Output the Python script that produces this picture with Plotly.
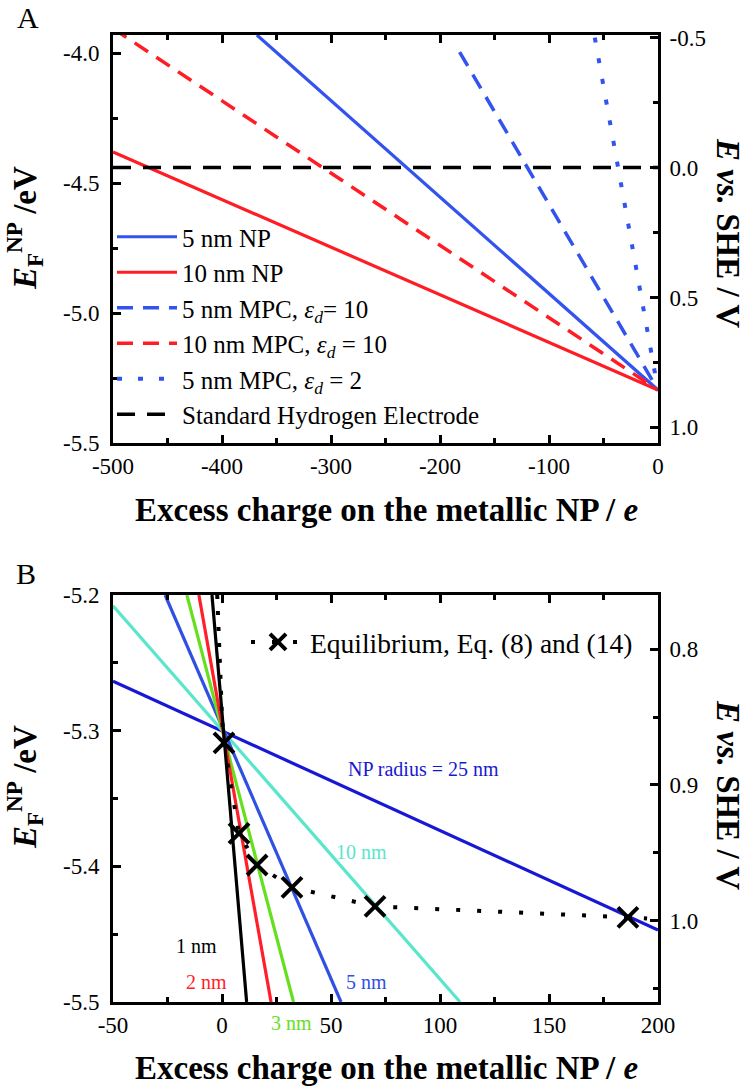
import plotly.graph_objects as go

# ---------------- Panel A data (excess charge / e, E_F / eV) ----------------
qA_5np = [-368, 0]
EA_5np = [-3.93, -5.296]
qA_10np = [-500, 0]
EA_10np = [-4.38, -5.296]
qA_5mpc10 = [-182, 0]
EA_5mpc10 = [-3.996, -5.296]
qA_10mpc10 = [-500, 0]
EA_10mpc10 = [-3.905, -5.296]
qA_5mpc2 = [-58, 0]
EA_5mpc2 = [-3.94, -5.296]
qA_she = [-500, 0]
ESHE_she = [0.0, 0.0]          # on the "E vs. SHE" axis

namesA = ["5 nm NP", "10 nm NP",
          "5 nm MPC, <i>ε<sub>d</sub></i>= 10",
          "10 nm MPC, <i>ε<sub>d</sub></i> = 10",
          "5 nm MPC, <i>ε<sub>d</sub></i> = 2",
          "Standard Hydrogen Electrode"]

# ---------------- Panel B data ----------------
qB_25 = [-50, 200]
EB_25 = [-5.2635, -5.447]
qB_10 = [-50, 109.2]
EB_10 = [-5.208, -5.5]
qB_5 = [-26.1, 54.6]
EB_5 = [-5.2, -5.5]
qB_3 = [-16.1, 32.8]
EB_3 = [-5.2, -5.5]
qB_2 = [-10.6, 22.5]
EB_2 = [-5.2, -5.5]
qB_1 = [-4.6, 11.3]
EB_1 = [-5.2, -5.5]

# equilibrium curve (Eq. 8 and 14)
qEq_top = [-2.2, -1.2, 0.0, 0.9]
EEq_top = [-5.2, -5.25, -5.29, -5.309]
qEq = [0.9, 7.8, 16.1, 32.1, 70.2, 186.2]
EEq = [-5.309, -5.3757, -5.399, -5.4155, -5.4295, -5.4376]
qEq_tail = [186.2, 195.0]
EEq_tail = [-5.4376, -5.4385]

# ticks
xA_ticks = [-500, -400, -300, -200, -100, 0]
xA_text = ["-500", "-400", "-300", "-200", "-100", "0"]
yA_ticks = [-5.5, -5.0, -4.5, -4.0]
yA_text = ["-5.5", "-5.0", "-4.5", "-4.0"]
y2A_ticks = [-0.5, 0.0, 0.5, 1.0]
y2A_text = ["-0.5", "0.0", "0.5", "1.0"]
xB_ticks = [-50, 0, 50, 100, 150, 200]
xB_text = ["-50", "0", "50", "100", "150", "200"]
yB_ticks = [-5.5, -5.4, -5.3, -5.2]
yB_text = ["-5.5", "-5.4", "-5.3", "-5.2"]
y2B_ticks = [0.8, 0.9, 1.0]
y2B_text = ["0.8", "0.9", "1.0"]

SHE_OFFSET = -4.44
yA_range = [-5.5, -3.93]
yB_range = [-5.5, -5.2]

BLUE_A = "#3253EE"
RED = "#FF1C24"
FONT = "Liberation Serif"

fig = go.Figure()

# Panel A traces
stylesA = [
    (qA_5np, EA_5np, "y", dict(color=BLUE_A, width=3.2)),
    (qA_10np, EA_10np, "y", dict(color=RED, width=3.2)),
    (qA_5mpc10, EA_5mpc10, "y", dict(color=BLUE_A, width=3.5, dash="16px,10px")),
    (qA_10mpc10, EA_10mpc10, "y", dict(color=RED, width=3.5, dash="16px,10px")),
    (qA_5mpc2, EA_5mpc2, "y", dict(color=BLUE_A, width=4, dash="5px,16px")),
    (qA_she, ESHE_she, "y2", dict(color="black", width=3.5, dash="18px,12px")),
]
for i, (q, E, ya, ln) in enumerate(stylesA):
    fig.add_trace(go.Scatter(x=q, y=E, mode="lines", name=namesA[i], line=ln,
                             xaxis="x", yaxis=ya, legend="legend", legendgroup="gA%d" % i))

# Panel B traces
for q, E, c in [(qB_25, EB_25, "#1818D4"), (qB_10, EB_10, "#5AE6CC"), (qB_5, EB_5, "#2F50E2"),
                (qB_3, EB_3, "#66E01E"), (qB_2, EB_2, "#FF1E2A"), (qB_1, EB_1, "black")]:
    fig.add_trace(go.Scatter(x=q, y=E, mode="lines", showlegend=False,
                             line=dict(color=c, width=3.2), xaxis="x2", yaxis="y3"))

fig.add_trace(go.Scatter(x=qEq_top, y=EEq_top, mode="lines", showlegend=False,
                         line=dict(color="black", width=4, dash="4px,12px"), xaxis="x2", yaxis="y3"))
fig.add_trace(go.Scatter(x=qEq_tail, y=EEq_tail, mode="lines", showlegend=False,
                         line=dict(color="black", width=4, dash="4px,12px"), xaxis="x2", yaxis="y3"))
fig.add_trace(go.Scatter(x=qEq, y=EEq, mode="lines+markers", name="Equilibrium, Eq. (8) and (14)",
                         line=dict(color="black", width=4, dash="4px,17px"),
                         marker=dict(symbol="x-thin", size=20, color="black", line=dict(color="black", width=4)),
                         xaxis="x2", yaxis="y3", legend="legend2"))
# empty trace so that the right-hand (E vs. SHE) axis of panel B is drawn
fig.add_trace(go.Scatter(x=[], y=[], mode="lines", showlegend=False, hoverinfo="skip",
                         xaxis="x2", yaxis="y4"))

W, H = 747, 1089
def px_x(p):
    return p / W
def px_y(p):
    return 1 - p / H

axis_common = dict(showline=True, linecolor="black", linewidth=3, ticks="inside", ticklen=8,
                   tickwidth=3, tickcolor="black", showgrid=False, zeroline=False, automargin=False,
                   tickfont=dict(family=FONT, size=23, color="black"), tickmode="array")
minor_common = dict(ticks="inside", ticklen=5, tickwidth=2.5, tickcolor="black", tick0=0)

xdom = [px_x(113), px_x(658)]
fig.update_layout(
    width=W, height=H, margin=dict(l=0, r=0, t=0, b=0, autoexpand=False),
    paper_bgcolor="white", plot_bgcolor="white",
    font=dict(family=FONT, color="black"),
    xaxis=dict(axis_common, domain=xdom, anchor="y", range=[-500, 0], tickvals=xA_ticks, ticktext=xA_text,
               mirror="ticks", ticklabelstandoff=0, minor=dict(minor_common, dtick=50)),
    yaxis=dict(axis_common, domain=[px_y(443), px_y(35)], anchor="x", range=yA_range,
               tickvals=yA_ticks, ticktext=yA_text, ticklabelstandoff=6,
               minor=dict(minor_common, dtick=0.25)),
    yaxis2=dict(axis_common, overlaying="y", side="right", anchor="x",
                range=[SHE_OFFSET - yA_range[0], SHE_OFFSET - yA_range[1]],
                tickvals=y2A_ticks, ticktext=y2A_text, ticklabelstandoff=4,
                minor=dict(minor_common, dtick=0.25)),
    xaxis2=dict(axis_common, domain=xdom, anchor="y3", range=[-50, 200], tickvals=xB_ticks, ticktext=xB_text,
                mirror="ticks", ticklabelstandoff=0, minor=dict(minor_common, dtick=25)),
    yaxis3=dict(axis_common, domain=[px_y(1002), px_y(595)], anchor="x2", range=yB_range,
                tickvals=yB_ticks, ticktext=yB_text, ticklabelstandoff=6,
                minor=dict(minor_common, dtick=0.05)),
    yaxis4=dict(axis_common, overlaying="y3", side="right", anchor="x2",
                range=[SHE_OFFSET - yB_range[0], SHE_OFFSET - yB_range[1]],
                tickvals=y2B_ticks, ticktext=y2B_text, ticklabelstandoff=4,
                minor=dict(minor_common, dtick=0.05)),
    legend=dict(x=px_x(112), y=px_y(214), xanchor="left", yanchor="top", bgcolor="rgba(0,0,0,0)",
                font=dict(family=FONT, size=25, color="black"), itemwidth=60, tracegroupgap=0),
    legend2=dict(x=px_x(246), y=px_y(642), xanchor="left", yanchor="middle", bgcolor="rgba(0,0,0,0)",
                 font=dict(family=FONT, size=27.5, color="black"), itemwidth=54),
)

ann = []
title_font = dict(family=FONT, size=33, color="black")
def paper_text(text, xp, yp, font, angle=0):
    return dict(text=text, x=px_x(xp), y=px_y(yp), xref="paper", yref="paper", showarrow=False,
                xanchor="center", yanchor="middle", textangle=angle, font=font)
# panel letters
ann.append(paper_text("A", 28, 18, dict(family=FONT, size=30, color="black")))
ann.append(paper_text("B", 26, 573, dict(family=FONT, size=30, color="black")))
# axis titles
for yc in (510, 1068):
    ann.append(paper_text("<b>Excess charge on the metallic NP / <i>e</i></b>", 386, yc, title_font))
for yc in (228, 787):
    ann.append(paper_text("<b><i>E</i><sub>F</sub><sup>NP</sup> /eV</b>", 24, yc, title_font, -90))
for yc in (233, 795):
    ann.append(paper_text("<b><i>E vs.</i> SHE / V</b>", 728, yc, title_font, 90))
# line labels in panel B
lab_font = 20
for txt, x, y, c, ys in [("NP radius = 25 nm", 92.2, -5.3284, "#1818D4", 0),
                         ("10 nm", 63.8, -5.3897, "#5AE6CC", 0),
                         ("1 nm", -11.5, -5.459, "black", 0),
                         ("2 nm", -6.9, -5.4856, "#FF1E2A", 0),
                         ("3 nm", 31.7, -5.5, "#66E01E", -21),
                         ("5 nm", 66.5, -5.4856, "#2F50E2", 0)]:
    ann.append(dict(text=txt, x=x, y=y, xref="x2", yref="y3", showarrow=False, yshift=ys,
                    xanchor="center", yanchor="middle",
                    font=dict(family=FONT, size=lab_font, color=c)))
fig.update_layout(annotations=ann)

fig.write_html("out.html", config={"displayModeBar": False},
               post_script="document.body.style.margin='0';document.body.style.overflow='hidden';")
